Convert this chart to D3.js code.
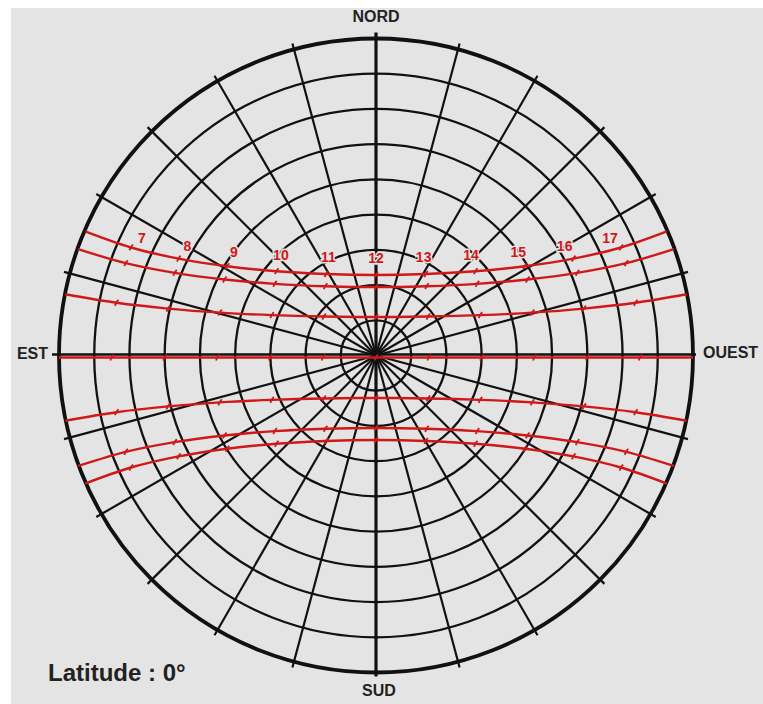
<!DOCTYPE html>
<html>
<head>
<meta charset="utf-8">
<script src="https://cdn.jsdelivr.net/npm/d3@7"></script>
<style>
  body { margin: 0; background: #fff; }
  svg { display: block; }
  .cardinal { font-family: "Liberation Sans", Arial, sans-serif; font-weight: bold; font-size: 16px; fill: #222; }
  .hourLabel { font-family: "Liberation Sans", Arial, sans-serif; font-weight: bold; font-size: 14px; fill: #d01818;
               stroke: #e4e4e4; stroke-width: 3px; paint-order: stroke; }
</style>
</head>
<body>
<script>
// hours of the day drawn on each sun path (6h = sunrise, 18h = sunset)
var hours = [6, 7, 8, 9, 10, 11, 12, 13, 14, 15, 16, 17, 18];
var hourLabels = [7, 8, 9, 10, 11, 12, 13, 14, 15, 16, 17];

// grid
var ringAltitudes = [80, 70, 60, 50, 40, 30, 20, 10];
var spokeAzimuths = [15, 30, 45, 60, 75, 105, 120, 135, 150, 165, 195, 210, 225, 240, 255, 285, 300, 315, 330, 345];

// sun positions, azimuth (deg from north, towards east) and altitude, one per hour
var azJun = [66.56, 65.82, 63.40, 58.48, 49.07, 30.84, 0, 329.16, 310.93, 301.52, 296.60, 294.18, 293.44];
var altJun = [0, 13.74, 27.31, 40.45, 52.61, 62.40, 66.56, 62.40, 52.61, 40.45, 27.31, 13.74, 0];

var azMay = [70, 69.35, 67.20, 62.76, 53.95, 35.41, 0, 324.59, 306.05, 297.24, 292.80, 290.65, 290];
var altMay = [0, 14.08, 28.02, 41.64, 54.46, 65.17, 70, 65.17, 54.46, 41.64, 28.02, 14.08, 0];

var azApr = [78.5, 78.10, 76.77, 73.97, 67.86, 51.83, 0, 308.17, 292.14, 286.03, 283.23, 281.90, 281.5];
var altApr = [0, 14.69, 29.34, 43.86, 58.07, 71.18, 78.5, 71.18, 58.07, 43.86, 29.34, 14.69, 0];

var azMar = [90, 90, 90, 90, 90, 90, 90, 270, 270, 270, 270, 270, 270];
var altMar = [0, 15, 30, 45, 60, 75, 90, 75, 60, 45, 30, 15, 0];

var azFeb = [101.5, 101.90, 103.23, 106.03, 112.14, 128.17, 180, 231.83, 247.86, 253.97, 256.77, 258.10, 258.5];
var altFeb = [0, 14.69, 29.34, 43.86, 58.07, 71.18, 78.5, 71.18, 58.07, 43.86, 29.34, 14.69, 0];

var azJan = [110, 110.65, 112.80, 117.24, 126.05, 144.59, 180, 215.41, 233.95, 242.76, 247.20, 249.35, 250];
var altJan = [0, 14.08, 28.02, 41.64, 54.46, 65.17, 70, 65.17, 54.46, 41.64, 28.02, 14.08, 0];

var azDec = [113.44, 114.18, 116.60, 121.52, 130.93, 149.16, 180, 210.84, 229.07, 238.48, 243.40, 245.82, 246.56];
var altDec = [0, 13.74, 27.31, 40.45, 52.61, 62.40, 66.56, 62.40, 52.61, 40.45, 27.31, 13.74, 0];

var width = 763, height = 704;
var cx = 376, cy = 355.5, R = 317;

var svg = d3.select("body").append("svg")
  .attr("width", width)
  .attr("height", height);

// gray panel (image has a thin white margin top/left)
svg.append("rect")
  .attr("x", 11).attr("y", 8)
  .attr("width", width - 11).attr("height", height - 8)
  .attr("fill", "#e4e4e4");

// altitude -> radius (zenith in the middle, horizon on the circle)
var r = d3.scaleLinear().domain([90, 0]).range([0, R]);

function project(az, alt) {
  var a = az * Math.PI / 180;
  var rr = r(alt);
  // north up, east on the left
  return [cx - rr * Math.sin(a), cy - rr * Math.cos(a)];
}

var grid = svg.append("g");

// altitude rings
grid.selectAll(".ring")
  .data(ringAltitudes)
  .enter()
  .append("circle")
  .attr("class", "ring")
  .attr("cx", cx).attr("cy", cy)
  .attr("r", d => r(d))
  .attr("fill", "none")
  .attr("stroke", "#111")
  .attr("stroke-width", 2.3);

// azimuth spokes, slightly past the horizon
grid.selectAll(".spoke")
  .data(spokeAzimuths)
  .enter()
  .append("line")
  .attr("class", "spoke")
  .attr("x1", cx).attr("y1", cy)
  .attr("x2", d => cx - (R + 6) * Math.sin(d * Math.PI / 180))
  .attr("y2", d => cy - (R + 6) * Math.cos(d * Math.PI / 180))
  .attr("stroke", "#111")
  .attr("stroke-width", 2.2);

// horizon
grid.append("circle")
  .attr("cx", cx).attr("cy", cy)
  .attr("r", r(0))
  .attr("fill", "none")
  .attr("stroke", "#111")
  .attr("stroke-width", 3.8);

// main axes N-S and E-W
grid.append("line")
  .attr("x1", cx).attr("y1", cy - R - 6)
  .attr("x2", cx).attr("y2", cy + R + 4)
  .attr("stroke", "#111").attr("stroke-width", 3.2);
grid.append("line")
  .attr("x1", cx - R - 7).attr("y1", cy - 1)
  .attr("x2", cx + R + 3).attr("y2", cy - 1)
  .attr("stroke", "#111").attr("stroke-width", 2.5);

// sun paths
var paths = [
  {az: azJun, alt: altJun},
  {az: azMay, alt: altMay},
  {az: azApr, alt: altApr},
  {az: azMar, alt: altMar},
  {az: azFeb, alt: altFeb},
  {az: azJan, alt: altJan},
  {az: azDec, alt: altDec}
];
paths.forEach(p => {
  p.pts = hours.map((h, i) => ({hour: h, xy: project(p.az[i], p.alt[i])}));
});

var sun = svg.append("g").attr("transform", "translate(0,2)");

var line = d3.line()
  .x(d => d.xy[0])
  .y(d => d.xy[1])
  .curve(d3.curveCatmullRom.alpha(0.5));

sun.selectAll(".sunpath")
  .data(paths)
  .enter()
  .append("path")
  .attr("class", "sunpath")
  .attr("d", d => line(d.pts))
  .attr("fill", "none")
  .attr("stroke", "#d01818")
  .attr("stroke-width", 2.4);

// little hour marks on every path
paths.forEach(p => {
  sun.selectAll(null)
    .data(p.pts.filter(d => d.hour > 6 && d.hour < 18))
    .enter()
    .append("path")
    .attr("d", d => "M" + (d.xy[0] - 1.5) + "," + (d.xy[1] + 3) +
                    "L" + d.xy[0] + "," + (d.xy[1] - 0.5) +
                    "L" + (d.xy[0] + 2) + "," + (d.xy[1] - 3))
    .attr("fill", "none")
    .attr("stroke", "#d01818")
    .attr("stroke-width", 1.8);
});

// hour labels above the June path
var junPts = paths[0].pts;
svg.selectAll(".hourLabel")
  .data(hourLabels)
  .enter()
  .append("text")
  .attr("class", "hourLabel")
  .attr("text-anchor", "middle")
  .attr("x", h => junPts.find(d => d.hour === h).xy[0] - (h - 12) * 2.2)
  .attr("y", h => {
    var k = Math.abs(h - 12);
    return junPts.find(d => d.hour === h).xy[1] + 2 - 12 + k * k * 0.3;
  })
  .text(h => h);

// cardinal points
svg.append("text").attr("class", "cardinal")
  .attr("x", cx).attr("y", 22).attr("text-anchor", "middle").text("NORD");
svg.append("text").attr("class", "cardinal")
  .attr("x", cx + 3).attr("y", 696).attr("text-anchor", "middle").text("SUD");
svg.append("text").attr("class", "cardinal")
  .attr("x", 48).attr("y", 359).attr("text-anchor", "end").text("EST");
svg.append("text").attr("class", "cardinal")
  .attr("x", 703).attr("y", 358).attr("text-anchor", "start").text("OUEST");

svg.append("text")
  .attr("x", 48).attr("y", 681)
  .style("font-family", "Liberation Sans, Arial, sans-serif")
  .style("font-weight", "bold")
  .style("font-size", "24px")
  .style("fill", "#222")
  .text("Latitude : 0°");
</script>
</body>
</html>
